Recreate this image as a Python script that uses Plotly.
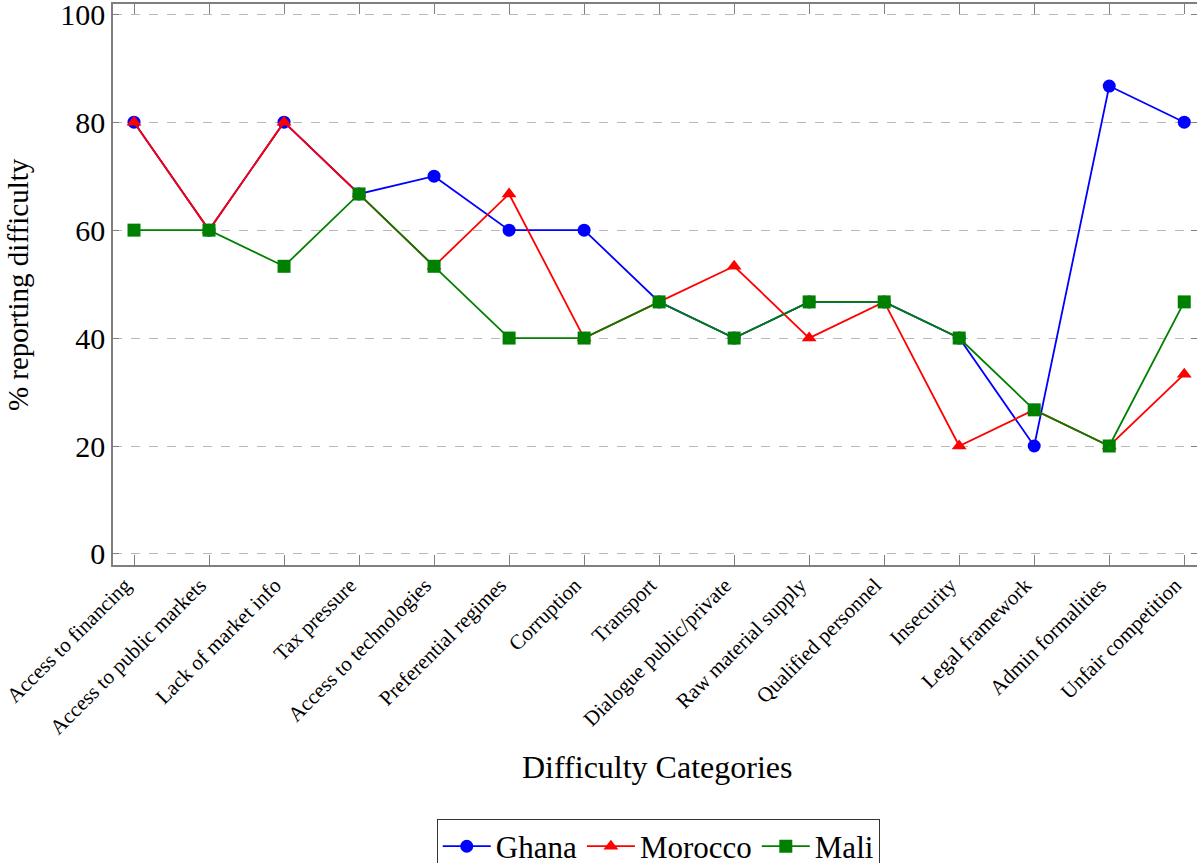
import plotly.graph_objects as go

categories = ["Access to financing", "Access to public markets", "Lack of market info",
              "Tax pressure", "Access to technologies", "Preferential regimes", "Corruption",
              "Transport", "Dialogue public/private", "Raw material supply", "Qualified personnel",
              "Insecurity", "Legal framework", "Admin formalities", "Unfair competition"]
ghana = [80, 60, 80, 66.7, 70, 60, 60, 46.7, 40, 46.7, 46.7, 40, 20, 86.7, 80]
morocco = [80, 60, 80, 66.7, 53.3, 66.7, 40, 46.7, 53.3, 40, 46.7, 20, 26.7, 20, 33.3]
mali = [60, 60, 53.3, 66.7, 53.3, 40, 40, 46.7, 40, 46.7, 46.7, 40, 26.7, 20, 46.7]
y_ticks = [0, 20, 40, 60, 80, 100]

FONT = "Liberation Serif, Times New Roman, serif"
idx = list(range(len(categories)))

fig = go.Figure()
series = [("Ghana", ghana, "#0000ff", "circle", 13),
          ("Morocco", morocco, "#ff0000", "triangle-up", 13),
          ("Mali", mali, "#008000", "square", 13)]
for name, vals, col, sym, sz in series:
    fig.add_trace(go.Scatter(x=idx, y=vals, name=name, mode="lines+markers",
                             line=dict(color=col, width=1.8),
                             marker=dict(symbol=sym, size=sz, color=col, line=dict(width=0))))

fig.update_layout(
    width=1197, height=863,
    margin=dict(l=113, r=0, t=4, b=298, autoexpand=False),
    paper_bgcolor="white", plot_bgcolor="white",
    font=dict(family=FONT, color="black"),
    showlegend=True,
    legend=dict(orientation="h", x=0.503, xanchor="center", y=-0.452, yanchor="top",
                bordercolor="#333333", borderwidth=1, font=dict(size=31, family=FONT),
                itemwidth=48, tracegroupgap=0),
    xaxis=dict(range=[-0.28, 14.17], tickmode="array", tickvals=idx, ticktext=categories,
               tickangle=-45, tickfont=dict(size=21, family=FONT), showgrid=False,
               zeroline=False, showline=True, linecolor="#7f7f7f", linewidth=1.5,
               mirror="ticks", ticks="inside", ticklen=10, tickcolor="#7f7f7f", tickwidth=1,
               automargin=False, ticklabelshift=-9, ticklabelstandoff=-2),
    yaxis=dict(range=[-2.05, 101.9], tickmode="array", tickvals=y_ticks,
               tickfont=dict(size=30, family=FONT), showgrid=True, gridcolor="#b8b8b8",
               griddash="dash", gridwidth=1, zeroline=False, showline=True,
               linecolor="#7f7f7f", linewidth=1.5, mirror="ticks", ticks="inside",
               ticklen=6, tickcolor="#7f7f7f", tickwidth=1, automargin=False,
               ticklabeloverflow="allow"),
    annotations=[
        dict(text="Difficulty Categories", xref="paper", yref="paper", x=0.502, y=-0.36,
             xanchor="center", yanchor="middle", showarrow=False, font=dict(size=32, family=FONT)),
        dict(text="% reporting difficulty", xref="paper", yref="paper", x=-0.088, y=0.5,
             xanchor="center", yanchor="middle", textangle=-90, showarrow=False,
             font=dict(size=29, family=FONT)),
    ],
)

fig.write_html("out.html", config={"displayModeBar": False},
               post_script="document.body.style.margin='0';document.body.style.overflow='hidden';")
